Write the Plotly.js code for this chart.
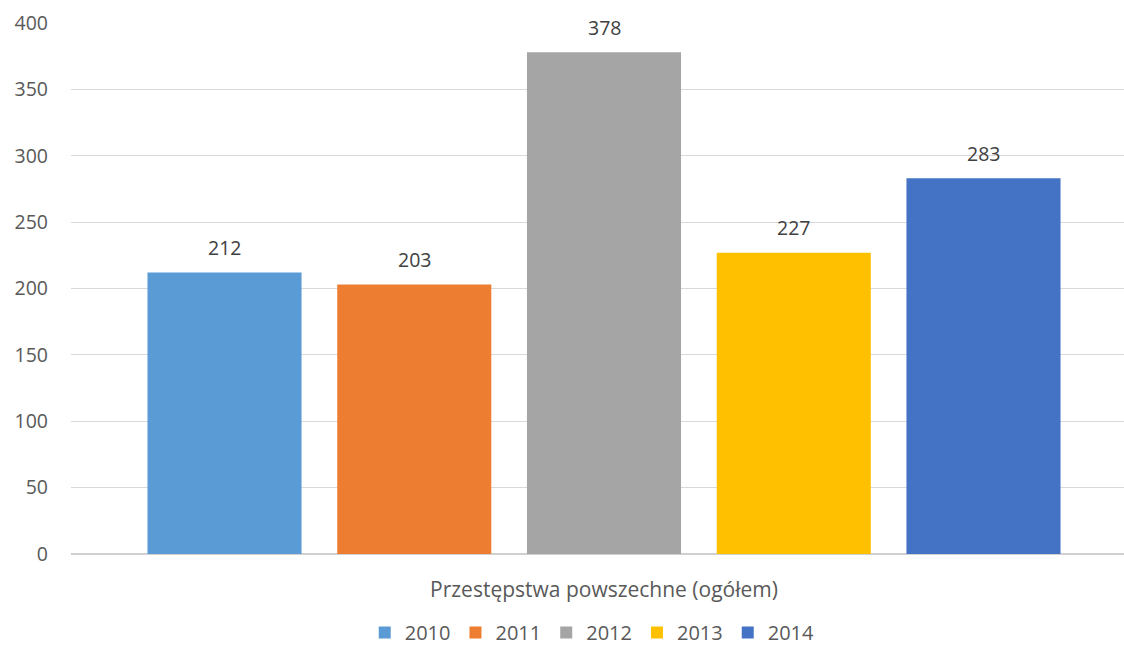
<!DOCTYPE html>
<html>
<head>
<meta charset="utf-8">
<script src="https://cdn.plot.ly/plotly-3.0.1.min.js"></script>
<style>html,body{margin:0;padding:0;background:#fff}#chart{width:1124px;height:648px}</style>
</head>
<body>
<div id="chart"></div>
<script>
const category = ["Przestępstwa powszechne (ogółem)"];
const years = ["2010", "2011", "2012", "2013", "2014"];
const values = [212, 203, 378, 227, 283];
const colors = ["#5b9bd5", "#ed7d31", "#a5a5a5", "#ffc000", "#4472c4"];

const BARGAP = 0.11, BARGROUPGAP = 0.188;
const XRANGE = [-0.5, 0.4878];
const M = {l: 71, r: 0, t: 23, b: 94, autoexpand: false};
const W = 1124, H = 648;

const traces = years.map((yr, i) => ({
  type: "bar",
  name: yr,
  x: category,
  y: [values[i]],
  marker: {color: colors[i], line: {width: 0}},
  hoverinfo: "name+y"
}));

// data labels placed above each grouped bar, offset derived from the bar layout
const pxPerUnit = (W - M.l - M.r) / (XRANGE[1] - XRANGE[0]);
const slotPx = pxPerUnit * (1 - BARGAP) / years.length;
const annotations = years.map((yr, i) => ({
  x: category[0], y: values[i], xref: "x", yref: "y",
  text: String(values[i]), showarrow: false,
  xshift: (i - (years.length - 1) / 2) * slotPx,
  yshift: 25, yanchor: "middle",
  font: {family: "Open Sans, sans-serif", size: 19.5, color: "#404040"}
}));

const layout = {
  width: W, height: H,
  margin: M,
  paper_bgcolor: "#fff", plot_bgcolor: "#fff",
  barmode: "group",
  bargap: BARGAP,
  bargroupgap: BARGROUPGAP,
  font: {family: "Open Sans, sans-serif", color: "#595959"},
  xaxis: {
    range: XRANGE,
    showgrid: false, zeroline: false, showline: false,
    ticks: "", ticklabelstandoff: 21,
    tickfont: {size: 21, color: "#595959"}
  },
  yaxis: {
    range: [0, 400], dtick: 50,
    showgrid: true, gridcolor: "#d9d9d9", gridwidth: 1,
    zeroline: true, zerolinecolor: "#d0d0d0", zerolinewidth: 2,
    showline: false, ticks: "", ticklabelstandoff: 22,
    tickfont: {size: 19.5, color: "#595959"}
  },
  annotations: annotations,
  showlegend: true,
  legend: {
    orientation: "h", xref: "paper", x: 0.495, xanchor: "center",
    yref: "paper", y: -0.111, yanchor: "top",
    font: {size: 20, color: "#595959"},
    itemwidth: 30, traceorder: "normal"
  }
};

Plotly.newPlot("chart", traces, layout, {displayModeBar: false, staticPlot: true});
</script>
</body>
</html>
